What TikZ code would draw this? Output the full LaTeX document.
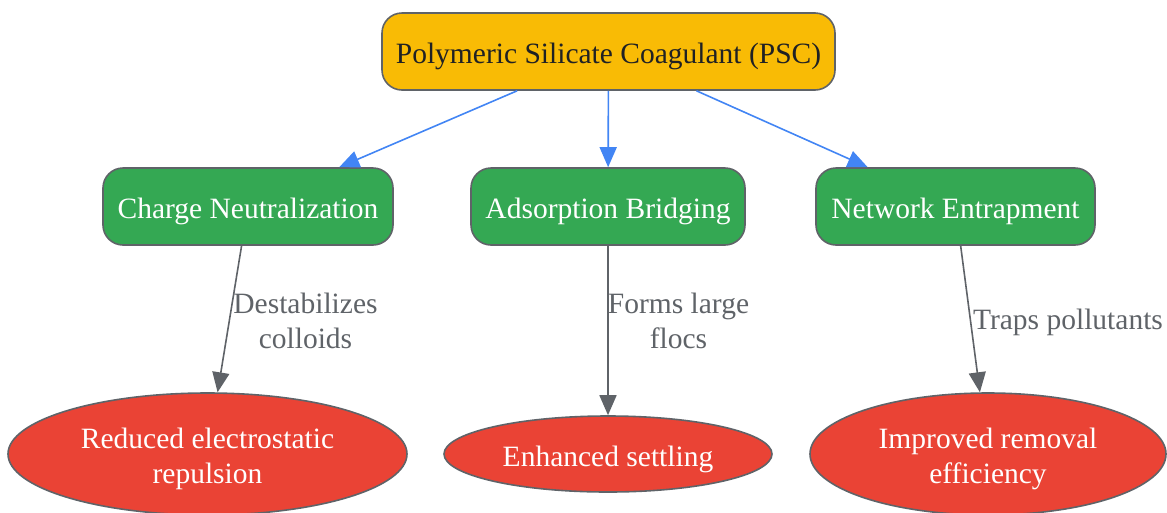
\documentclass[tikz,border=0pt]{standalone}
\usepackage{fontspec}
\setmainfont{Liberation Serif}
\usetikzlibrary{shapes.geometric,arrows.meta}
\definecolor{bordergray}{HTML}{5F6368}
\definecolor{psyellow}{HTML}{F9BB05}
\definecolor{mechgreen}{HTML}{34A853}
\definecolor{resred}{HTML}{EA4335}
\definecolor{linkblue}{HTML}{4285F4}
\definecolor{titletext}{HTML}{202124}
\newcommand{\lowtxt}[1]{\raisebox{-11.4pt}[0pt][0pt]{\begin{tabular}{@{}c@{}}#1\end{tabular}}}
\tikzset{
  x=1pt, y=-1pt,
  every node/.style={font=\fontsize{29.5}{35}\selectfont, align=center},
  rootbox/.style={draw=bordergray, line width=1.6pt, fill=psyellow, rounded corners=20pt,
    text=titletext, minimum width=453pt, minimum height=77pt, inner sep=0pt},
  mechbox/.style={draw=bordergray, line width=1.6pt, fill=mechgreen, rounded corners=20pt,
    text=white, minimum height=77pt, inner sep=0pt},
  resell/.style={ellipse, draw=bordergray, line width=1.6pt, fill=resred, text=white, inner sep=0pt},
  bluelink/.style={draw=linkblue, line width=1.6pt, -{Triangle[length=20pt,width=17pt]}},
  graylink/.style={draw=bordergray, line width=1.6pt, -{Triangle[length=20pt,width=17pt]}},
  linklabel/.style={text=bordergray}
}
\begin{document}
\begin{tikzpicture}
\useasboundingbox (0,0) rectangle (1167,512);
\node[rootbox] (psc) at (608.5,51.5) {\lowtxt{Polymeric Silicate Coagulant (PSC)}};
\node[mechbox, minimum width=290pt] (charge) at (248,206.5) {\lowtxt{Charge Neutralization}};
\node[mechbox, minimum width=274pt] (adsorp) at (608,206.5) {\lowtxt{Adsorption Bridging}};
\node[mechbox, minimum width=279pt] (network) at (955.5,206.5) {\lowtxt{Network Entrapment}};
\node[resell, minimum width=399pt, minimum height=122pt] (reduced) at (207.5,454) {\lowtxt{Reduced electrostatic\\repulsion}};
\node[resell, minimum width=328pt, minimum height=76pt] (settling) at (608,454) {\lowtxt{Enhanced settling}};
\node[resell, minimum width=356pt, minimum height=122pt] (improved) at (988,454) {\lowtxt{Improved removal\\efficiency}};
\draw[bluelink] (psc) -- (charge);
\draw[bluelink] (psc) -- (adsorp);
\draw[bluelink] (psc) -- (network);
\draw[graylink] (charge) -- (reduced);
\draw[graylink] (adsorp) -- (settling);
\draw[graylink] (network) -- (improved);
\node[linklabel] (l1) at (305.5,321) {Destabilizes\\colloids};
\node[linklabel] (l2) at (678.5,321) {Forms large\\flocs};
\node[linklabel] (l3) at (1068,322.5) {Traps pollutants};
\end{tikzpicture}
\end{document}
